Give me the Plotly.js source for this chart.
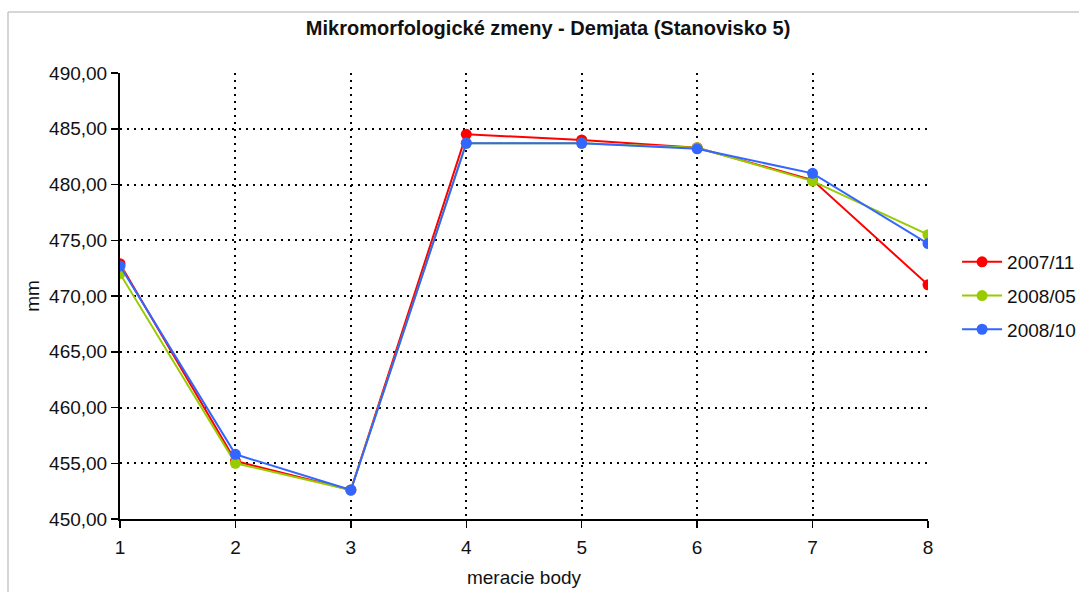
<!DOCTYPE html>
<html>
<head>
<meta charset="utf-8">
<script src="https://cdn.plot.ly/plotly-3.0.1.min.js"></script>
<style>html,body{margin:0;padding:0;background:#fff;}#chart{width:1079px;height:592px;}</style>
</head>
<body>
<div id="chart"></div>
<script>
const points = [1, 2, 3, 4, 5, 6, 7, 8];
const s2007_11 = [472.9, 455.2, 452.6, 484.5, 484.0, 483.3, 480.4, 471.0];
const s2008_05 = [472.0, 455.0, 452.6, 483.7, 483.7, 483.3, 480.3, 475.5];
const s2008_10 = [472.7, 455.8, 452.6, 483.7, 483.7, 483.2, 481.0, 474.7];
const seriesNames = ["2007/11", "2008/05", "2008/10"];
const seriesColors = ["#ff0000", "#99cc00", "#3366ff"];
const yTicks = [450, 455, 460, 465, 470, 475, 480, 485, 490];

const allSeries = [s2007_11, s2008_05, s2008_10];
const traces = allSeries.map((ys, i) => ({
  x: points, y: ys, name: seriesNames[i], legendgroup: "g" + i,
  type: "scatter", mode: "lines+markers",
  line: {color: seriesColors[i], width: 2},
  marker: {color: seriesColors[i], size: 11}
}));

const font = "Liberation Sans, Arial, sans-serif";
const fs = 19;
const layout = {
  width: 1079, height: 592,
  separators: ", ",
  paper_bgcolor: "#fff", plot_bgcolor: "#fff",
  margin: {l: 120, r: 151, t: 73, b: 73},
  font: {family: font, size: fs, color: "#111"},
  title: {text: "<b>Mikromorfologické zmeny - Demjata (Stanovisko 5)</b>", font: {family: font, size: 20, color: "#111"},
          xref: "container", x: 0.508, xanchor: "center", yref: "container", y: 0.952, yanchor: "middle"},
  xaxis: {range: [1, 8], tickvals: points, ticks: "outside", ticklen: 7, tickcolor: "#000", tickwidth: 1.5,
          showline: true, linecolor: "#000", linewidth: 2, mirror: false, ticklabelstandoff: 3,
          showgrid: true, gridcolor: "#000", griddash: "2px,5px", gridwidth: 2, zeroline: false,
          tickfont: {size: fs}, title: {text: "meracie body", font: {size: fs}, standoff: 14}},
  yaxis: {range: [450, 490], tickvals: yTicks, tickformat: ".2f", ticks: "outside", ticklen: 7, tickcolor: "#000", tickwidth: 1.5,
          showline: true, linecolor: "#000", linewidth: 2,
          showgrid: true, gridcolor: "#000", griddash: "2px,5px", gridwidth: 2, zeroline: false,
          tickfont: {size: fs}, title: {text: "mm", font: {size: fs}, standoff: 4}},
  legend: {xref: "container", yref: "container", x: 0.887, xanchor: "left", y: 0.5, yanchor: "middle",
           font: {size: fs}, bgcolor: "rgba(0,0,0,0)", tracegroupgap: 6, itemwidth: 40},
  shapes: [
    {type: "line", xref: "paper", yref: "paper", x0: -0.1386, x1: 1.3, y0: 1.1368, y1: 1.1368, line: {color: "#c8c8c8", width: 1.5}},
    {type: "line", xref: "paper", yref: "paper", x0: -0.1386, x1: -0.1386, y0: 1.1368, y1: -0.3, line: {color: "#c8c8c8", width: 1.5}}
  ]
};

Plotly.newPlot("chart", traces, layout, {displayModeBar: false, staticPlot: true});
</script>
</body>
</html>
